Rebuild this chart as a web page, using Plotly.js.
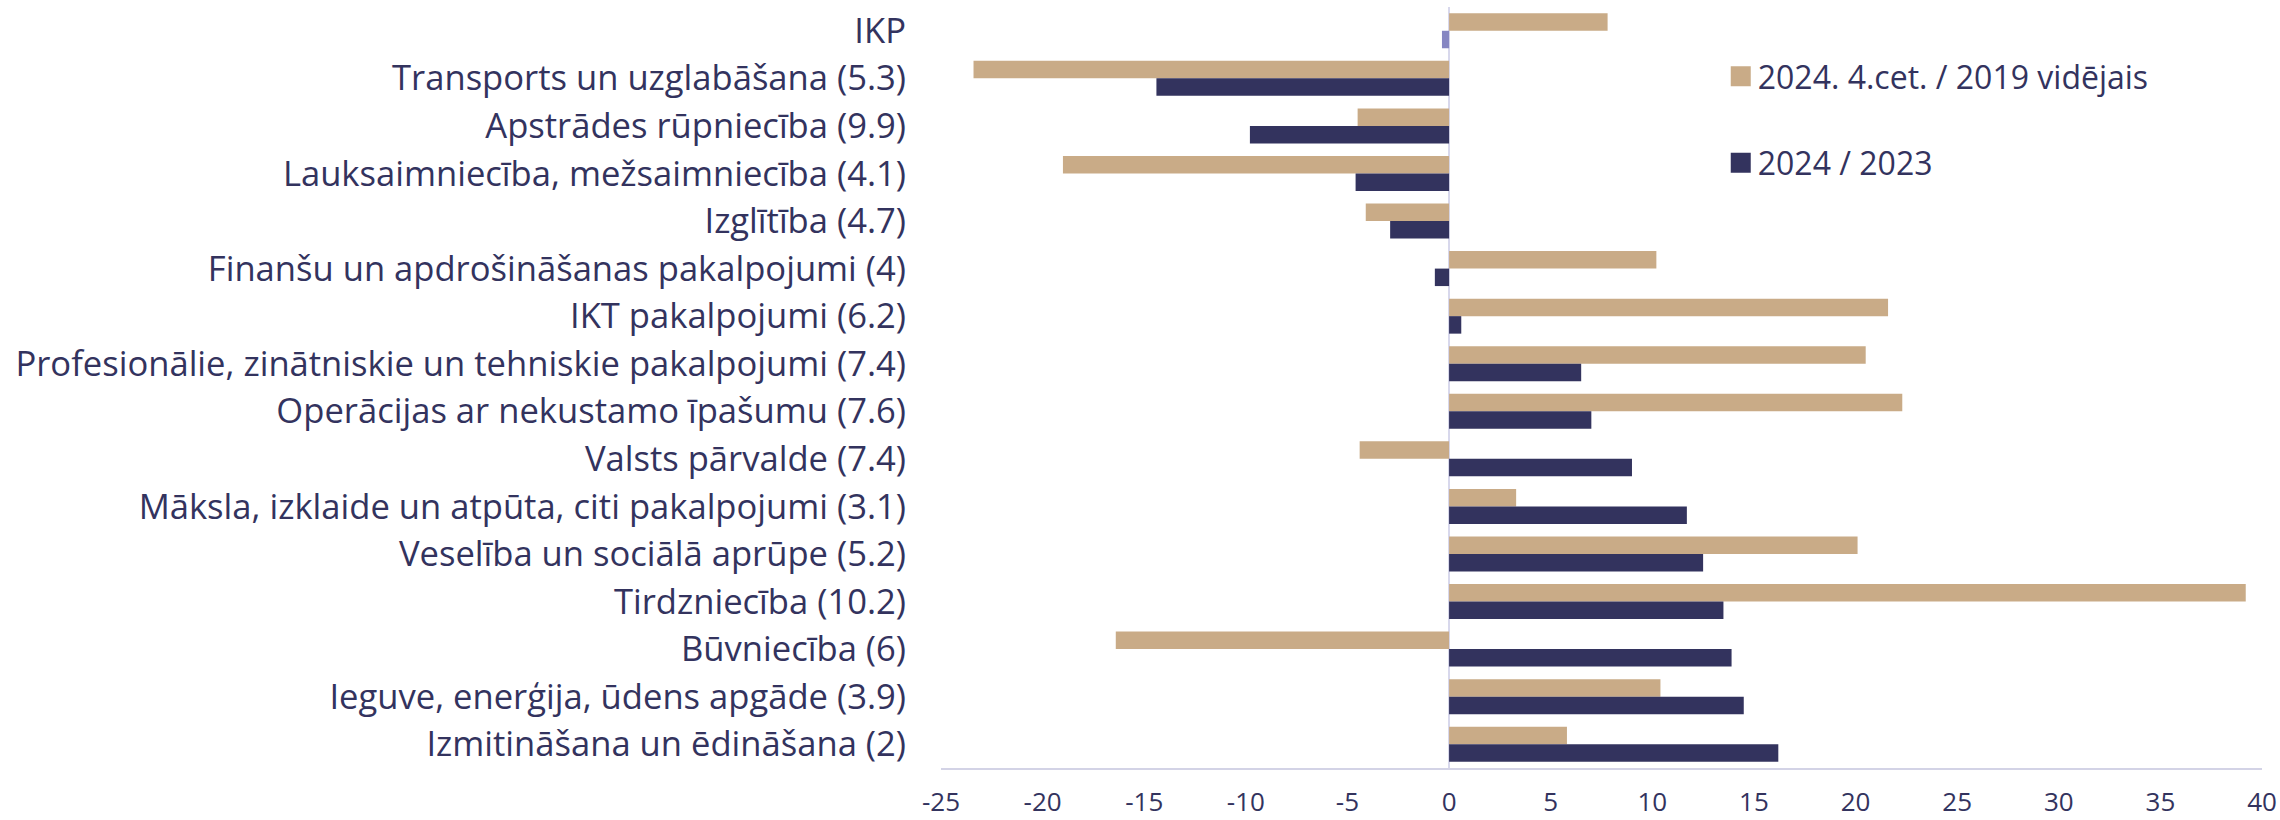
<!DOCTYPE html>
<html>
<head>
<meta charset="utf-8">
<script src="https://cdn.plot.ly/plotly-3.0.1.min.js"></script>
<style>html,body{margin:0;padding:0;background:#fff;}#chart{width:2280px;height:820px;}</style>
</head>
<body>
<div id="chart"></div>
<script>
const categories = [
  "IKP",
  "Transports un uzglabāšana (5.3)",
  "Apstrādes rūpniecība (9.9)",
  "Lauksaimniecība, mežsaimniecība (4.1)",
  "Izglītība (4.7)",
  "Finanšu un apdrošināšanas pakalpojumi (4)",
  "IKT pakalpojumi (6.2)",
  "Profesionālie, zinātniskie un tehniskie pakalpojumi (7.4)",
  "Operācijas ar nekustamo īpašumu (7.6)",
  "Valsts pārvalde (7.4)",
  "Māksla, izklaide un atpūta, citi pakalpojumi (3.1)",
  "Veselība un sociālā aprūpe (5.2)",
  "Tirdzniecība (10.2)",
  "Būvniecība (6)",
  "Ieguve, enerģija, ūdens apgāde (3.9)",
  "Izmitināšana un ēdināšana (2)"
];
const seriesNames = ["2024. 4.cet. / 2019 vidējais", "2024 / 2023"];
const vs2019 = [7.8, -23.4, -4.5, -19.0, -4.1, 10.2, 21.6, 20.5, 22.3, -4.4, 3.3, 20.1, 39.2, -16.4, 10.4, 5.8];
const vs2023 = [-0.35, -14.4, -9.8, -4.6, -2.9, -0.7, 0.6, 6.5, 7.0, 9.0, 11.7, 12.5, 13.5, 13.9, 14.5, 16.2];
const xTickVals = [-25, -20, -15, -10, -5, 0, 5, 10, 15, 20, 25, 30, 35, 40];
const highlightCategory = "IKP";

const TAN = '#C9AB87', NAVY = '#33335E', IKP_NAVY = '#8686C2', TEXT = '#33335E';

// the highlighted (total) category gets its own lighter bar in the same slot
const isHi = categories.map(c => c === highlightCategory);
const traces = [
  {type:'bar', orientation:'h', name:seriesNames[0], y:categories, x:vs2019,
   marker:{color:TAN}, offsetgroup:'a', legendgroup:'a', hoverinfo:'x+y'},
  {type:'bar', orientation:'h', name:seriesNames[1], y:categories,
   x:vs2023.map((v,i) => isHi[i] ? null : v),
   marker:{color:NAVY}, offsetgroup:'b', legendgroup:'b', hoverinfo:'x+y'},
  {type:'bar', orientation:'h', name:seriesNames[1], y:categories.filter((c,i) => isHi[i]),
   x:vs2023.filter((v,i) => isHi[i]),
   marker:{color:IKP_NAVY}, offsetgroup:'b', legendgroup:'b', showlegend:false, hoverinfo:'x+y'}
];

const layout = {
  width:2280, height:820,
  margin:{l:941, r:18, t:7, b:52, pad:0},
  paper_bgcolor:'#fff', plot_bgcolor:'#fff',
  font:{family:'"Open Sans", sans-serif', color:TEXT},
  barmode:'group', bargap:0.265, bargroupgap:0,
  showlegend:true,
  legend:{x:0.588, xanchor:'left', y:0.945, yanchor:'top', traceorder:'grouped',
    tracegroupgap:42, font:{size:32, color:TEXT}, bgcolor:'rgba(0,0,0,0)'},
  xaxis:{range:[-25,40], tickvals:xTickVals, ticktext:xTickVals.map(String),
    showgrid:false, zeroline:true, zerolinecolor:'#D8D8EC', zerolinewidth:2,
    showline:true, linecolor:'#D3D3E6', linewidth:2, ticks:'',
    ticklabelstandoff:10, tickfont:{size:26, color:TEXT}, fixedrange:true},
  yaxis:{type:'category', categoryorder:'array', categoryarray:categories,
    autorange:'reversed', showgrid:false, zeroline:false, showline:false, ticks:'',
    ticklabelstandoff:34, tickfont:{size:34.6, color:TEXT}, fixedrange:true}
};

Plotly.newPlot('chart', traces, layout, {displayModeBar:false, staticPlot:true}).then(gd => {
  // enlarge the legend swatches to the reference's 20px squares
  gd.querySelectorAll('.legend .legendpoints path').forEach(p => p.setAttribute('d', 'M13,10H-7V-10H13Z'));
});
</script>
</body>
</html>
